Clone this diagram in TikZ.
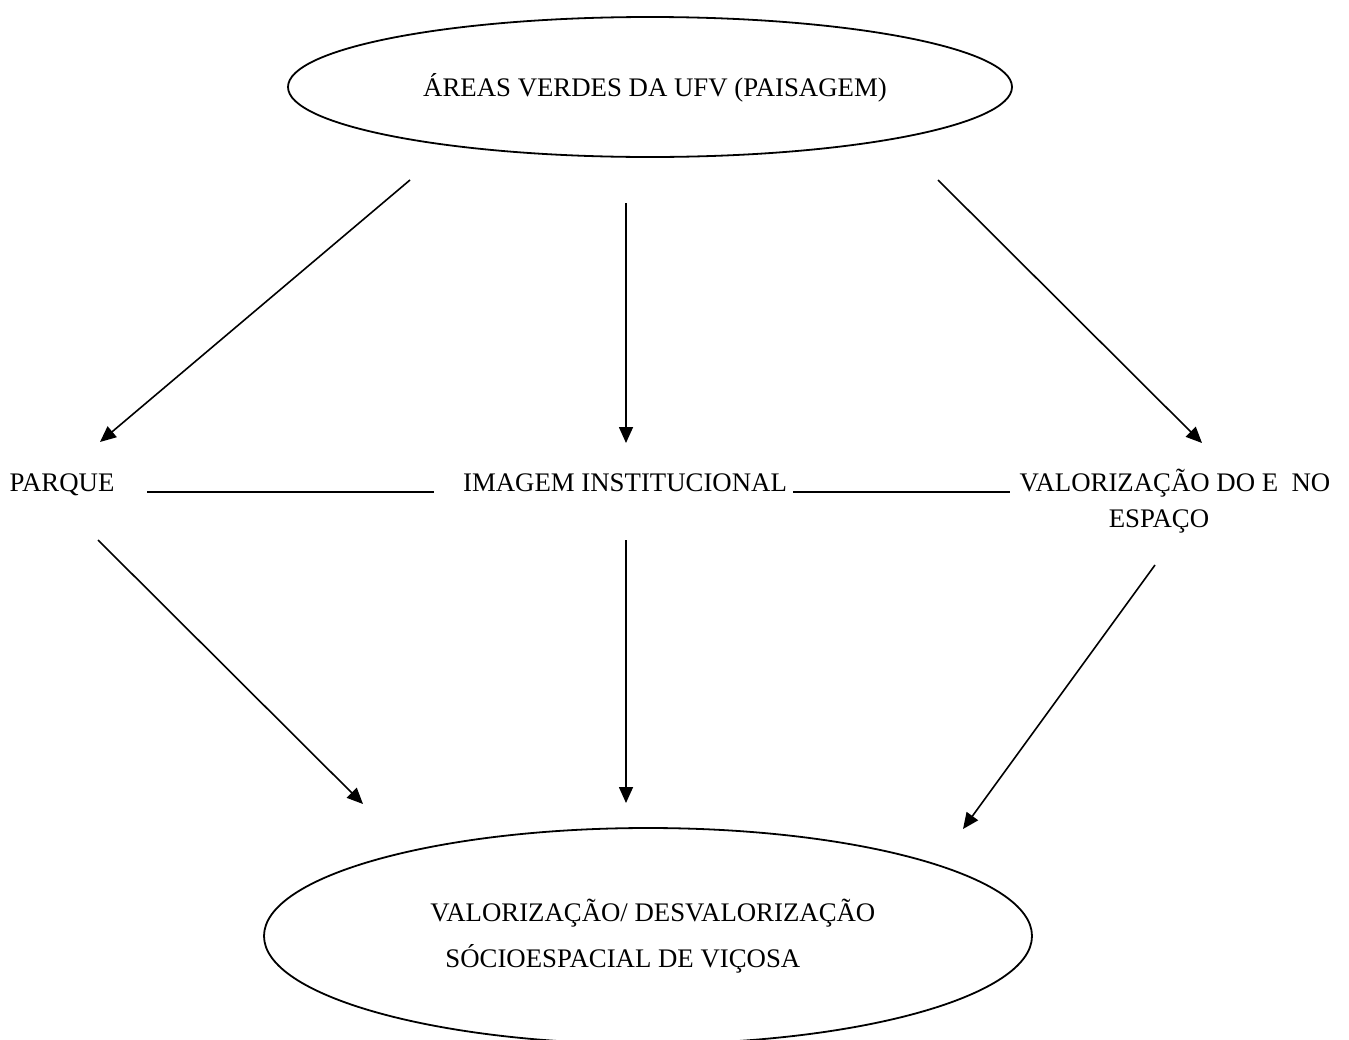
\documentclass[tikz,border=0pt]{standalone}
\usepackage{fontspec}
\setmainfont{Liberation Serif}
\usetikzlibrary{arrows.meta,shapes.geometric}
\begin{document}
\begin{tikzpicture}[x=0.5pt,y=-0.5pt,
  every node/.style={font=\fontsize{13.4}{16}\selectfont, inner sep=0pt},
  txt/.style={anchor=base},
  oval/.style={draw, ellipse, line width=0.9pt},
  arr/.style={line width=0.8pt, -{Triangle[length=8pt,width=7pt]}},
  bar/.style={line width=1.1pt}]
\useasboundingbox (0,0) rectangle (1349,1039);
\begin{scope}
\clip (0,0) rectangle (1349,1039);
\node[oval, minimum width=362pt, minimum height=70pt] (top) at (650,87) {};
\node[oval, minimum width=384pt, minimum height=108pt] (bot) at (648,936) {};
\end{scope}
\node[txt] (toptxt) at (655,96) {ÁREAS VERDES DA UFV (PAISAGEM)};
\node[anchor=base west] (b1) at (430,921) {VALORIZAÇÃO/ DESVALORIZAÇÃO};
\node[anchor=base west] (b2) at (445,967) {SÓCIOESPACIAL DE VIÇOSA};

\node[txt] (parque) at (62,491) {PARQUE};
\node[txt] (imagem) at (625,491) {IMAGEM INSTITUCIONAL};
\node[txt] (valor) at (1175,491) {VALORIZAÇÃO DO E\ \ NO};
\node[txt] (espaco) at (1159,527) {ESPAÇO};

\coordinate (l1a) at (147,492); \coordinate (l1b) at (434,492);
\coordinate (l2a) at (793,492); \coordinate (l2b) at (1010,492);
\draw[bar] (l1a) -- (l1b);
\draw[bar] (l2a) -- (l2b);

\coordinate (a1s) at (410,180); \coordinate (a1e) at (100,442);
\coordinate (a2s) at (626,203); \coordinate (a2e) at (626,443);
\coordinate (a3s) at (938,180); \coordinate (a3e) at (1202,443);
\coordinate (a4s) at (98,540);  \coordinate (a4e) at (363,804);
\coordinate (a5s) at (626,540); \coordinate (a5e) at (626,803);
\coordinate (a6s) at (1155,565); \coordinate (a6e) at (963,829);
\draw[arr] (a1s) -- (a1e);
\draw[arr] (a2s) -- (a2e);
\draw[arr] (a3s) -- (a3e);
\draw[arr] (a4s) -- (a4e);
\draw[arr] (a5s) -- (a5e);
\draw[arr] (a6s) -- (a6e);
\end{tikzpicture}
\end{document}
